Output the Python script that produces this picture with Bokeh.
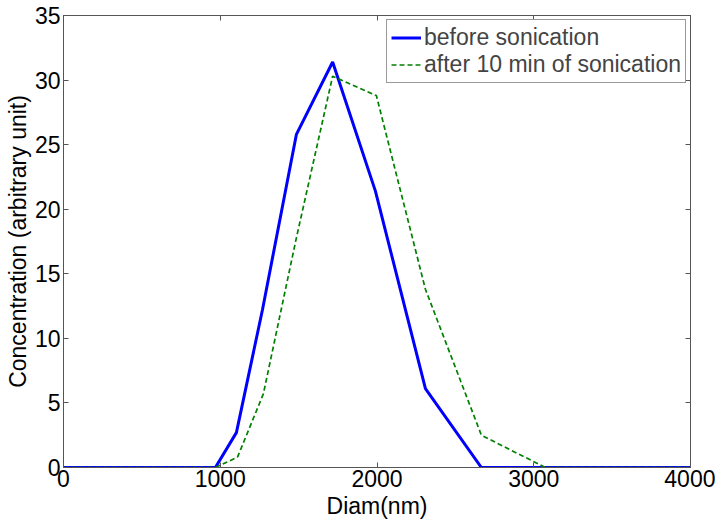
from bokeh.plotting import figure
from bokeh.models import LinearAxis, Legend, LegendItem, FixedTicker, Range1d
from bokeh.embed import file_html
from bokeh.resources import INLINE

diam_before = [0, 969, 1103, 1269, 1486, 1717, 1990, 2309, 2666, 4000]
conc_before = [0, 0, 2.7, 12.2, 25.8, 31.4, 21.4, 6.1, 0, 0]
diam_after = [0, 969, 1110, 1275, 1486, 1717, 1996, 2309, 2666, 3074, 4000]
conc_after = [0, 0, 0.8, 5.7, 17.8, 30.3, 28.8, 13.8, 2.5, 0, 0]
x_ticks = [0, 1000, 2000, 3000, 4000]
y_ticks = [0, 5, 10, 15, 20, 25, 30, 35]

FONT = "Liberation Sans"
AX = "#555555"

p = figure(width=715, height=525, output_backend="svg", toolbar_location=None,
           x_range=Range1d(0, 4000), y_range=Range1d(0, 35),
           min_border_left=63, min_border_right=25, min_border_top=15, min_border_bottom=58)
p.xgrid.visible = False
p.ygrid.visible = False
p.outline_line_color = AX
p.background_fill_color = "white"
p.border_fill_color = "white"

r1 = p.line(diam_before, conc_before, line_color="#0000FF", line_width=3)
r2 = p.line(diam_after, conc_after, line_color="#008000", line_width=1.7, line_dash="5 3")

for ax in (p.xaxis[0], p.yaxis[0]):
    ax.major_tick_in = 5
    ax.major_tick_out = 0
    ax.minor_tick_in = 0
    ax.minor_tick_out = 0
    ax.axis_line_color = AX
    ax.major_tick_line_color = AX
    ax.major_label_text_font = FONT
    ax.major_label_text_font_size = "23px"
    ax.major_label_text_color = "black"
    ax.axis_label_text_font = FONT
    ax.axis_label_text_font_size = "23px"
    ax.axis_label_text_font_style = "normal"
    ax.axis_label_text_color = "black"
p.xaxis[0].ticker = FixedTicker(ticks=x_ticks)
p.yaxis[0].ticker = FixedTicker(ticks=y_ticks)
p.xaxis[0].axis_label = "Diam(nm)"
p.yaxis[0].axis_label = "Concentration (arbitrary unit)"
p.xaxis[0].major_label_standoff = 2
p.yaxis[0].major_label_standoff = 3
p.xaxis[0].axis_label_standoff = 3
p.yaxis[0].axis_label_standoff = 1

top = LinearAxis(ticker=FixedTicker(ticks=x_ticks),
                 major_label_overrides={t: "" for t in x_ticks},
                 major_tick_in=5, major_tick_out=0, minor_tick_in=0, minor_tick_out=0,
                 axis_line_color=AX, major_tick_line_color=AX)
right = LinearAxis(ticker=FixedTicker(ticks=y_ticks),
                   major_label_overrides={t: "" for t in y_ticks},
                   major_tick_in=5, major_tick_out=0, minor_tick_in=0, minor_tick_out=0,
                   axis_line_color=AX, major_tick_line_color=AX)
p.add_layout(top, "above")
p.add_layout(right, "right")

legend = Legend(items=[LegendItem(label="before sonication", renderers=[r1]),
                       LegendItem(label="after 10 min of sonication", renderers=[r2])],
                location="top_right", margin=4, padding=4, spacing=0,
                label_text_font=FONT, label_text_font_size="23px",
                glyph_width=30, glyph_height=25, label_height=25, label_standoff=3,
                border_line_color="#333333", border_line_width=1,
                background_fill_alpha=1.0)
p.add_layout(legend)

open("out.html", "w").write(file_html(p, INLINE))
